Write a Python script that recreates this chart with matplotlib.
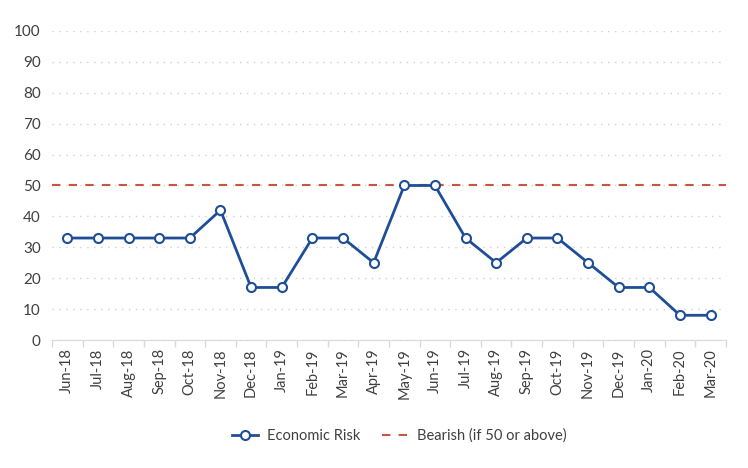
import numpy as np
import matplotlib.pyplot as plt

plt.rcParams['font.family'] = ['Lato', 'DejaVu Sans']

months = ["Jun-18", "Jul-18", "Aug-18", "Sep-18", "Oct-18", "Nov-18", "Dec-18",
          "Jan-19", "Feb-19", "Mar-19", "Apr-19", "May-19", "Jun-19", "Jul-19",
          "Aug-19", "Sep-19", "Oct-19", "Nov-19", "Dec-19", "Jan-20", "Feb-20", "Mar-20"]
risk = [33, 33, 33, 33, 33, 42, 17, 17, 33, 33, 25, 50, 50, 33, 25, 33, 33, 25, 17, 17, 8, 8]
bearish = 50

blue = "#1f4e96"
red = "#c8553d"
text_col = "#404040"

fig = plt.figure(figsize=(7.48, 4.68), dpi=100)
ax = fig.add_axes([0.0695, 0.2735, 0.901, 0.6603])

x = np.arange(len(months))
ax.plot(x, risk, color=blue, lw=2, marker="o", ms=6.5, mfc="white", mec=blue,
        mew=1.5, label="Economic Risk", zorder=3)
ax.axhline(bearish, color=red, lw=1.5, ls=(0, (4, 4)), label="Bearish (if 50 or above)")

ax.set_xlim(-0.5, len(months) - 0.5)
ax.set_ylim(0, 100)
ax.set_yticks(np.arange(0, 101, 10))
ax.set_xticks(x)
ax.set_xticklabels(months, rotation=90, fontsize=10.5, color=text_col)
ax.tick_params(axis="x", length=0, pad=6)
ax.set_xticks(np.arange(-0.5, len(months)), minor=True)
ax.tick_params(axis="x", which="minor", length=5, color="#d9d9d9", width=1)
ax.tick_params(axis="y", length=0, labelsize=11, labelcolor=text_col, pad=8)

ax.grid(axis="y", color="#d0d0d0", ls=(0, (1, 4)), lw=1)
for s in ["top", "right", "left"]:
    ax.spines[s].set_visible(False)
ax.spines["bottom"].set_color("#d9d9d9")

leg = ax.legend(loc="center", bbox_to_anchor=(0.515, -0.31), ncol=2, frameon=False,
                fontsize=10.5, handlelength=1.8, handletextpad=0.6, columnspacing=1.5)
for t in leg.get_texts():
    t.set_color(text_col)

fig.savefig("out.png", dpi=100)
